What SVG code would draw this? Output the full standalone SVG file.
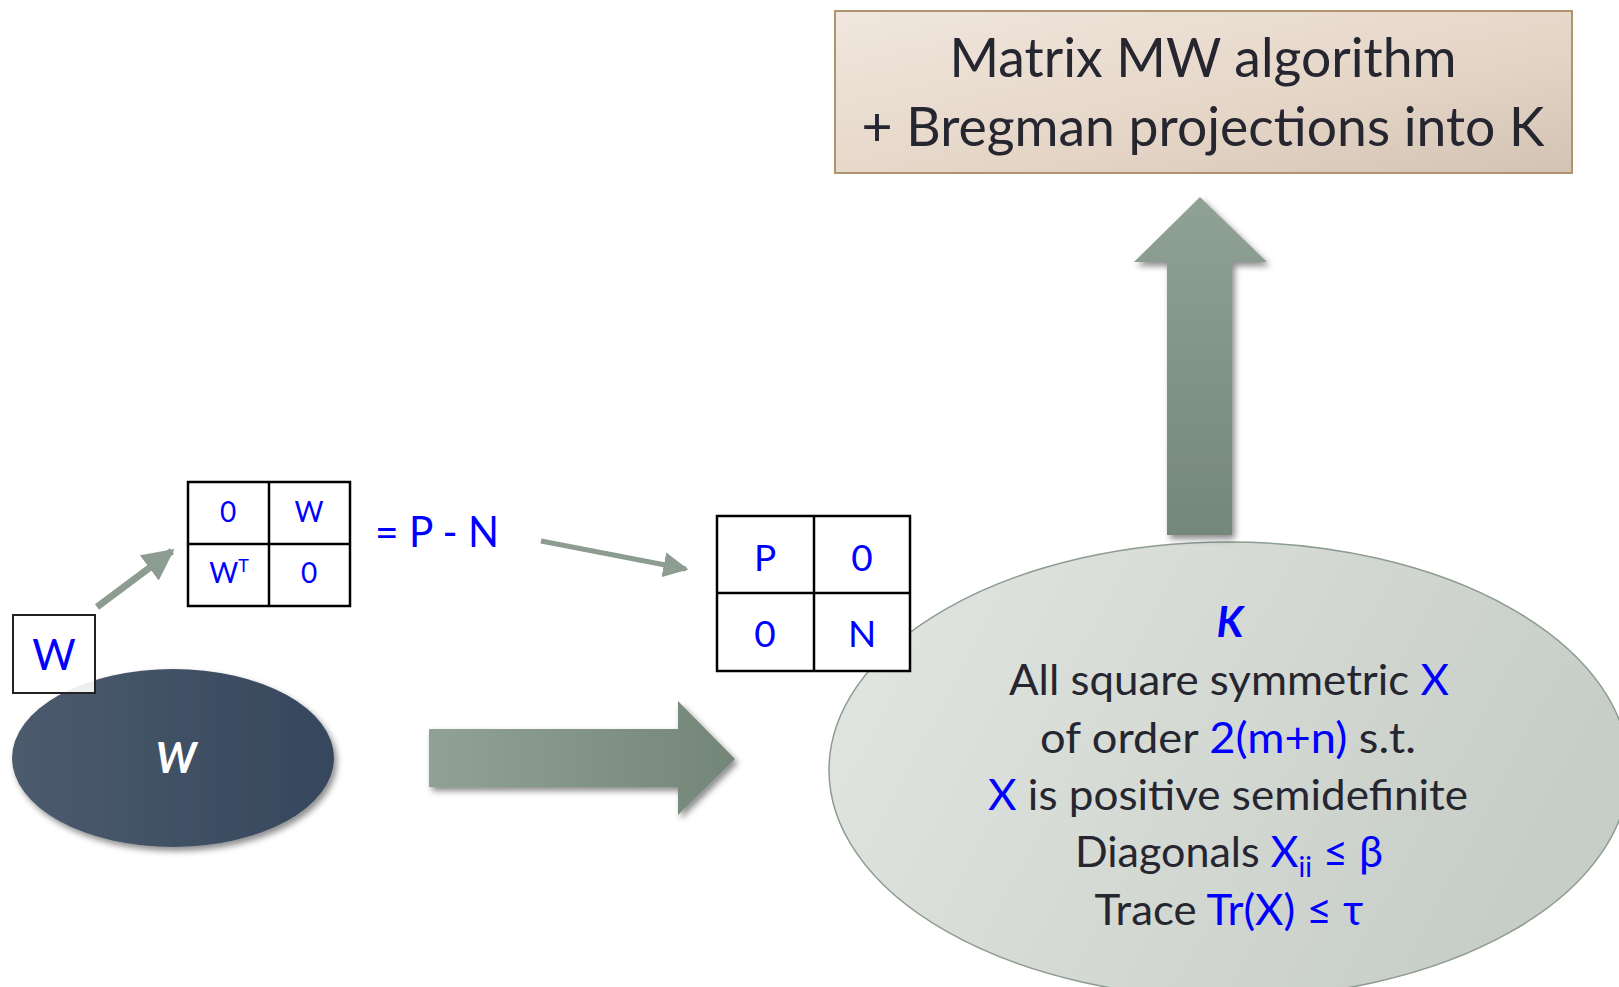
<svg xmlns="http://www.w3.org/2000/svg" width="1619" height="987" viewBox="0 0 1619 987">
<defs>
<linearGradient id="gTop" x1="0" y1="0" x2="1" y2="1">
<stop offset="0" stop-color="#f1e7de"/><stop offset="0.6" stop-color="#e4d5c6"/><stop offset="1" stop-color="#d3c3b4"/>
</linearGradient>
<linearGradient id="gDark" x1="0" y1="0" x2="1" y2="0">
<stop offset="0" stop-color="#4c5b6d"/><stop offset="1" stop-color="#36475d"/>
</linearGradient>
<linearGradient id="gK" x1="0" y1="0" x2="1" y2="0.3">
<stop offset="0" stop-color="#e3e7e3"/><stop offset="1" stop-color="#c7cdc7"/>
</linearGradient>
<linearGradient id="gRight" x1="0" y1="0" x2="1" y2="0">
<stop offset="0" stop-color="#91a196"/><stop offset="1" stop-color="#748678"/>
</linearGradient>
<linearGradient id="gUp" x1="0" y1="0" x2="0" y2="1">
<stop offset="0" stop-color="#90a196"/><stop offset="1" stop-color="#75877a"/>
</linearGradient>
<filter id="sh" x="-20%" y="-20%" width="140%" height="140%">
<feDropShadow dx="3" dy="4" stdDeviation="3" flood-color="#000" flood-opacity="0.45"/>
</filter>
<marker id="ah" viewBox="0 0 10 10" refX="9" refY="5" markerWidth="4.5" markerHeight="4.5" orient="auto" markerUnits="strokeWidth">
<path d="M0,0 L10,5 L0,10 z" fill="#8c9c91"/>
</marker>
<marker id="ah2" viewBox="0 0 10 10" refX="9" refY="5" markerWidth="5" markerHeight="5" orient="auto" markerUnits="strokeWidth">
<path d="M0,0 L10,5 L0,10 z" fill="#8c9c91"/>
</marker>
</defs>
<style>
.t{font-family:Lato,"Open Sans","Liberation Sans",sans-serif;}
.b{fill:#0000ff;}
.d{fill:#262630;}
.cell{fill:#fff;stroke:#000;stroke-width:2.5;}
.conn{stroke:#8c9c91;fill:none;}
</style>
<rect width="1619" height="987" fill="#fff"/>

<g id="node-top">
<rect x="835" y="11" width="737" height="162" fill="url(#gTop)" stroke="#b09470" stroke-width="2"/>
<text class="t d" x="1203" y="77" font-size="54" text-anchor="middle" textLength="507" lengthAdjust="spacingAndGlyphs">Matrix MW algorithm</text>
<text class="t d" x="1203" y="146" font-size="54" text-anchor="middle" textLength="683" lengthAdjust="spacingAndGlyphs">+ Bregman projections into K</text>
</g>

<g id="node-K">
<ellipse cx="1229" cy="770" rx="400" ry="228" fill="url(#gK)" stroke="#8c9c90" stroke-width="1.5"/>
<text class="t b" x="1230" y="637" font-size="42" font-weight="bold" font-style="italic" text-anchor="middle">K</text>
<text class="t d" x="1229" y="695" font-size="43" text-anchor="middle" textLength="440" lengthAdjust="spacingAndGlyphs">All square symmetric <tspan class="b">X</tspan></text>
<text class="t d" x="1228" y="753" font-size="43" text-anchor="middle" textLength="376" lengthAdjust="spacingAndGlyphs">of order <tspan class="b">2(m+n)</tspan> s.t.</text>
<text class="t d" x="1228" y="810" font-size="43" text-anchor="middle" textLength="480" lengthAdjust="spacingAndGlyphs"><tspan class="b">X</tspan> is positive semidefinite</text>
<text class="t d" x="1229" y="867" font-size="43" text-anchor="middle" textLength="308" lengthAdjust="spacingAndGlyphs">Diagonals <tspan class="b">X<tspan font-size="28" dy="10">ii</tspan><tspan dy="-10"> ≤ β</tspan></tspan></text>
<text class="t d" x="1229" y="925" font-size="43" text-anchor="middle" textLength="269" lengthAdjust="spacingAndGlyphs">Trace <tspan class="b">Tr(X) ≤ τ</tspan></text>
</g>

<g id="node-PN">
<rect class="cell" x="717" y="516" width="193" height="155"/>
<line x1="814" y1="516" x2="814" y2="671" stroke="#000" stroke-width="2.5"/>
<line x1="717" y1="593" x2="910" y2="593" stroke="#000" stroke-width="2.5"/>
<text class="t b" x="765" y="571" font-size="37" text-anchor="middle">P</text>
<text class="t b" x="862" y="571" font-size="37" text-anchor="middle">0</text>
<text class="t b" x="765" y="647" font-size="37" text-anchor="middle">0</text>
<text class="t b" x="862" y="647" font-size="37" text-anchor="middle">N</text>
</g>

<g id="node-M">
<rect class="cell" x="188" y="482" width="162" height="124"/>
<line x1="269" y1="482" x2="269" y2="606" stroke="#000" stroke-width="2.5"/>
<line x1="188" y1="544" x2="350" y2="544" stroke="#000" stroke-width="2.5"/>
<text class="t b" x="228" y="522" font-size="28" text-anchor="middle">0</text>
<text class="t b" x="309" y="522" font-size="28" text-anchor="middle">W</text>
<text class="t b" x="229" y="583" font-size="28" text-anchor="middle">W<tspan font-size="18" dy="-11">T</tspan></text>
<text class="t b" x="309" y="583" font-size="28" text-anchor="middle">0</text>
</g>

<g id="node-eq">
<text class="t b" x="437" y="547" font-size="43" text-anchor="middle" textLength="124" lengthAdjust="spacingAndGlyphs">= P - N</text>
</g>

<g id="node-Wdark">
<ellipse cx="173" cy="758" rx="161" ry="89" fill="url(#gDark)" filter="url(#sh)"/>
<text class="t" x="176" y="773" font-size="42" font-weight="bold" font-style="italic" fill="#fff" text-anchor="middle">W</text>
</g>

<g id="node-Wbox">
<rect x="13" y="615" width="82" height="78" fill="#fff" fill-opacity="0.9" stroke="#222" stroke-width="2"/>
<text class="t b" x="54" y="670" font-size="42" text-anchor="middle">W</text>
</g>

<g id="connectors">
<line class="conn" x1="97" y1="607" x2="172" y2="551" stroke-width="7" marker-end="url(#ah)"/>
<line class="conn" x1="541" y1="541" x2="686" y2="569" stroke-width="5" marker-end="url(#ah2)"/>
<polygon points="429,729 678,729 678,701 735,759 678,815 678,787 429,787" fill="url(#gRight)" filter="url(#sh)"/>
<polygon points="1200,197 1267,262 1232,262 1232,535 1167,535 1167,262 1134,262" fill="url(#gUp)" filter="url(#sh)"/>
</g>
</svg>
